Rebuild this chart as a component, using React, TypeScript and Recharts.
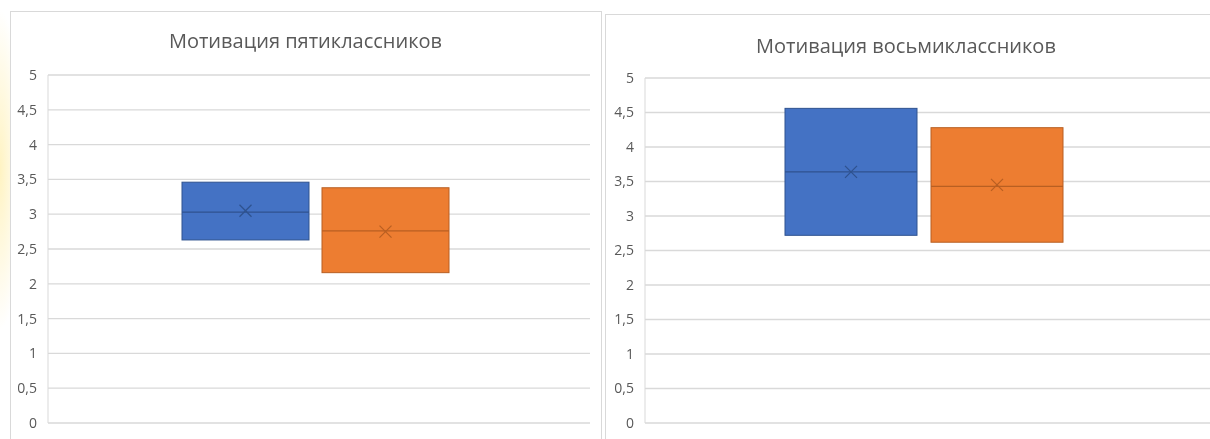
import { Bar, CartesianGrid, ComposedChart, XAxis, YAxis } from 'recharts'

const seriesNames = ['Ряд 1', 'Ряд 2']
const seriesFill = ['#4472C4', '#ED7D31']
const seriesStroke = ['#2F528F', '#B85F22']

// пятиклассники
const fifthLow = [2.63, 2.16]
const fifthHigh = [3.46, 3.38]
const fifthMedian = [3.03, 2.76]
const fifthMean = [3.05, 2.75]

// восьмиклассники
const eighthLow = [2.72, 2.62]
const eighthHigh = [4.56, 4.28]
const eighthMedian = [3.64, 3.43]
const eighthMean = [3.64, 3.45]

const yTicks = [0, 0.5, 1, 1.5, 2, 2.5, 3, 3.5, 4, 4.5, 5]

const font = '"Open Sans", "Noto Sans", sans-serif'

const makeBox =
  (i: number, low: number[], high: number[], median: number[], mean: number[]) =>
  (props: any) => {
    const { x, width } = props
    const top = Math.min(props.y, props.y + props.height)
    const h = Math.abs(props.height)
    const yOf = (v: number) => top + ((high[i] - v) / (high[i] - low[i])) * h
    const cx = x + width / 2
    const my = yOf(mean[i])
    const md = yOf(median[i])
    const s = 6
    return (
      <g>
        <rect x={x} y={top} width={width} height={h} fill={seriesFill[i]} stroke={seriesStroke[i]} strokeWidth={1} />
        <line x1={x} x2={x + width} y1={md} y2={md} stroke={seriesStroke[i]} strokeWidth={1.2} />
        <line x1={cx - s} x2={cx + s} y1={my - s} y2={my + s} stroke={seriesStroke[i]} strokeWidth={1.2} />
        <line x1={cx - s} x2={cx + s} y1={my + s} y2={my - s} stroke={seriesStroke[i]} strokeWidth={1.2} />
      </g>
    )
  }

const BoxChart = (p: {
  width: number
  top: number
  axisWidth: number
  right: number
  padRight: number
  barSize: number
  barGap: number
  low: number[]
  high: number[]
  median: number[]
  mean: number[]
}) => {
  const data = [
    {
      name: '',
      b0: [p.low[0], p.high[0]],
      b1: [p.low[1], p.high[1]],
    },
  ]
  return (
    <ComposedChart
      width={p.width}
      height={439}
      data={data}
      margin={{ top: p.top, right: p.right, bottom: 16, left: 0 }}
      barSize={p.barSize}
      barGap={p.barGap}
    >
      <CartesianGrid vertical={false} stroke="#d9d9d9" strokeWidth={1.3} />
      <XAxis dataKey="name" hide padding={{ left: 0, right: p.padRight }} />
      <YAxis
        width={p.axisWidth}
        domain={[0, 5]}
        ticks={yTicks}
        interval={0}
        tickLine={false}
        tickSize={6}
        tickMargin={5}
        axisLine={{ stroke: '#d9d9d9' }}
        tick={{ fill: '#595959', fontSize: 14, fontFamily: font }}
        tickFormatter={(v: number) => String(v).replace('.', ',')}
      />
      {[0, 1].map((i) => (
        <Bar
          key={i}
          dataKey={'b' + i}
          name={seriesNames[i]}
          fill={seriesFill[i]}
          isAnimationActive={false}
          shape={makeBox(i, p.low, p.high, p.median, p.mean)}
        />
      ))}
    </ComposedChart>
  )
}

const titleStyle = {
  position: 'absolute' as const,
  fontFamily: font,
  fontSize: 20,
  color: '#595959',
  textAlign: 'center' as const,
  lineHeight: '22px',
}

export default function App() {
  return (
    <div
      style={{
        position: 'fixed',
        left: 0,
        top: 0,
        width: 1210,
        height: 439,
        overflow: 'hidden',
        background: 'radial-gradient(ellipse 22px 160px at 0px 170px, #fff3c2 0%, #fffae6 60%, #ffffff 100%)',
      }}
    >
      <div
        style={{
          position: 'absolute',
          left: 10,
          top: 11,
          width: 590,
          height: 440,
          border: '1px solid #d9d9d9',
          background: '#fff',
        }}
      />
      <div
        style={{
          position: 'absolute',
          left: 605,
          top: 14,
          width: 620,
          height: 440,
          border: '1px solid #d9d9d9',
          background: '#fff',
        }}
      />
      <div style={{ ...titleStyle, left: 10, top: 30, width: 591 }}>Мотивация пятиклассников</div>
      <div style={{ ...titleStyle, left: 605, top: 35, width: 602 }}>Мотивация восьмиклассников</div>
      <div style={{ position: 'absolute', left: 0, top: 0 }}>
        <BoxChart
          width={601}
          top={75}
          axisWidth={48}
          right={11}
          padRight={8}
          barSize={127}
          barGap={13}
          low={fifthLow}
          high={fifthHigh}
          median={fifthMedian}
          mean={fifthMean}
        />
      </div>
      <div style={{ position: 'absolute', left: 605, top: 0 }}>
        <BoxChart
          width={620}
          top={78}
          axisWidth={40}
          right={0}
          padRight={23}
          barSize={132}
          barGap={14}
          low={eighthLow}
          high={eighthHigh}
          median={eighthMedian}
          mean={eighthMean}
        />
      </div>
    </div>
  )
}
